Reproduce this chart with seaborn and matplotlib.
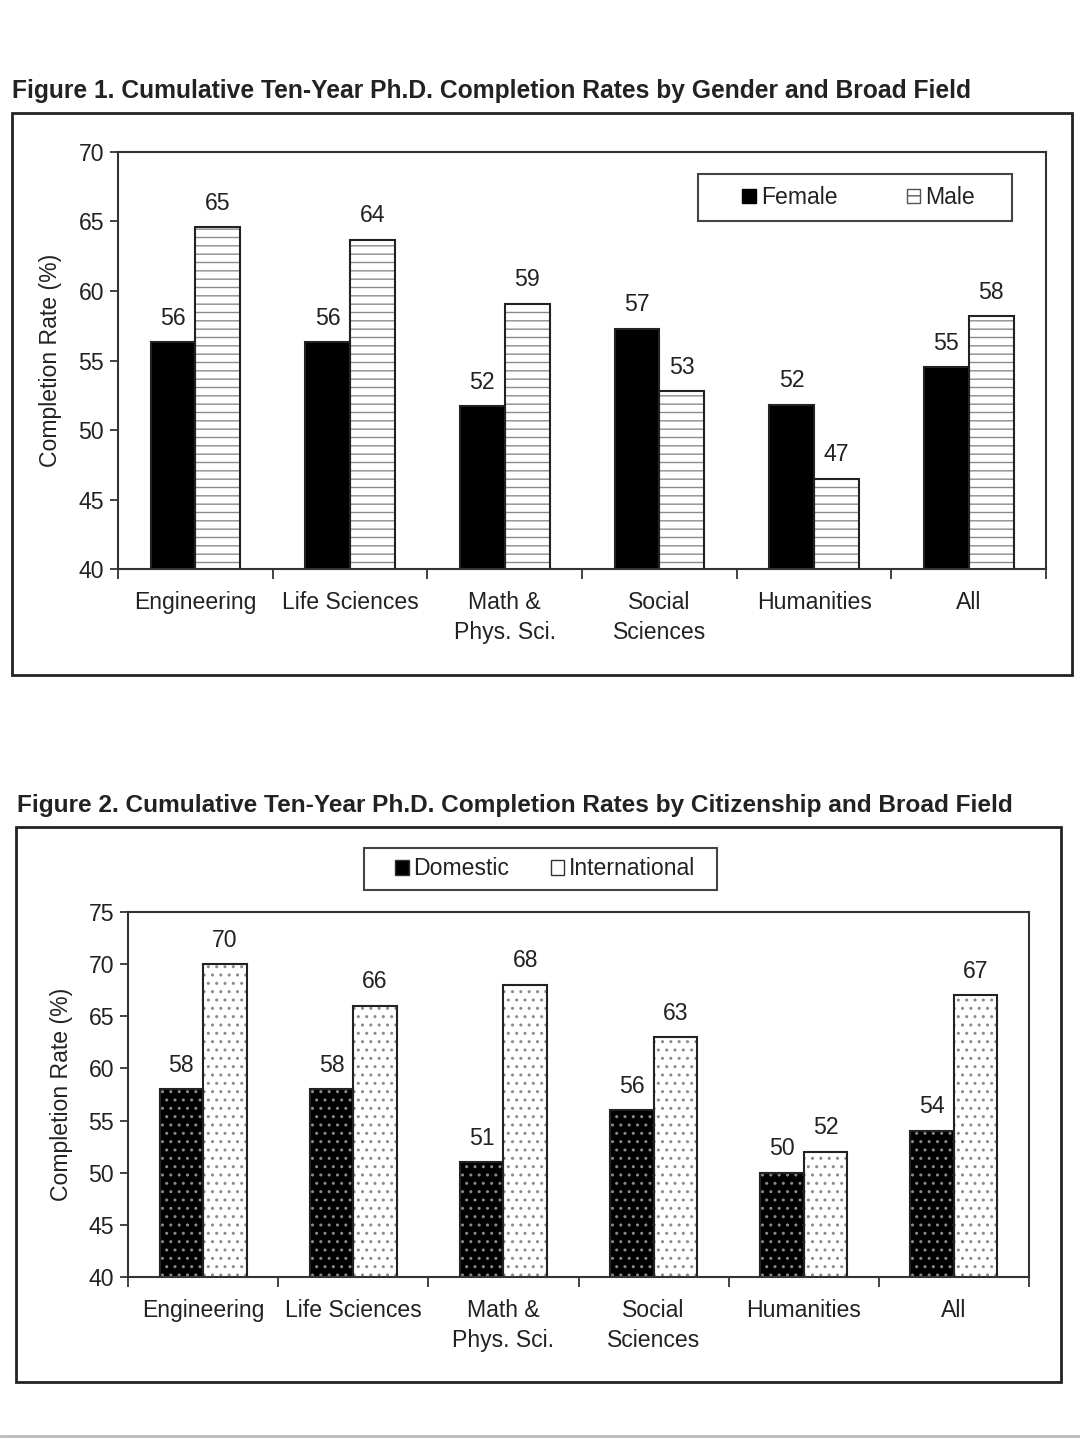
import numpy as np
import pandas as pd
import seaborn as sns
import matplotlib.pyplot as plt
from matplotlib.patches import Patch, Rectangle
from matplotlib.lines import Line2D

# Shared categories
fields = ['Engineering', 'Life Sciences', 'Math &\nPhys. Sci.', 'Social\nSciences', 'Humanities', 'All']

# Figure 1: completion by gender
female = [56.3, 56.3, 51.7, 57.3, 51.8, 54.5]
male = [64.6, 63.7, 59.1, 52.8, 46.5, 58.2]
female_labels = ['56', '56', '52', '57', '52', '55']
male_labels = ['65', '64', '59', '53', '47', '58']

# Figure 2: completion by citizenship
domestic = [58, 58, 51, 56, 50, 54]
international = [70, 66, 68, 63, 52, 67]
domestic_labels = [str(v) for v in domestic]
international_labels = [str(v) for v in international]

title1 = 'Figure 1. Cumulative Ten-Year Ph.D. Completion Rates by Gender and Broad Field'
title2 = 'Figure 2. Cumulative Ten-Year Ph.D. Completion Rates by Citizenship and Broad Field'

sns.set_style('ticks')
plt.rcParams['font.family'] = ['Liberation Sans', 'DejaVu Sans']
plt.rcParams['hatch.linewidth'] = 1.0
ink = '#222222'
fs = 16.6

fig = plt.figure(figsize=(10.8, 14.38), dpi=100)


def long_table(a, b, names):
    return pd.DataFrame({
        'field': fields * 2,
        'group': [names[0]] * len(fields) + [names[1]] * len(fields),
        'rate': a + b,
    })


def draw_panel(ax, df, names, styles, labels, ylim, labelpad):
    sns.barplot(data=df, x='field', y='rate', hue='group', order=fields, hue_order=names,
                palette=['black', 'white'], width=0.58, errorbar=None, legend=False, ax=ax)
    # hatch fill, then a plain outline on top (hatch colour follows edge colour)
    for cont, (face, hcol, hatch) in zip(ax.containers, styles):
        for bar in cont:
            bar.set_facecolor(face)
            bar.set_edgecolor(hcol)
            bar.set_hatch(hatch)
            bar.set_linewidth(0)
    sns.barplot(data=df, x='field', y='rate', hue='group', order=fields, hue_order=names,
                palette=[ink, ink], fill=False, linewidth=1.5, width=0.58,
                errorbar=None, legend=False, ax=ax)
    for cont, lab in zip(ax.containers[:2], labels):
        ax.bar_label(cont, labels=lab, padding=9, fontsize=fs, color=ink)

    ax.set_ylim(*ylim)
    ax.set_yticks(np.arange(ylim[0], ylim[1] + 1, 5))
    ax.set_xlim(-0.5, len(fields) - 0.5)
    ax.set_xticks(np.arange(len(fields)), fields, linespacing=1.4)
    ax.set_xticks(np.arange(-0.5, len(fields), 1), minor=True)
    ax.set_xlabel('')
    ax.set_ylabel('Completion Rate (%)', fontsize=fs, color=ink, labelpad=labelpad)
    ax.tick_params(axis='y', direction='out', length=6, width=1.2, pad=4,
                   labelsize=fs, colors=ink)
    ax.tick_params(axis='x', which='major', length=0, pad=16, labelsize=fs, colors=ink)
    ax.tick_params(axis='x', which='minor', direction='out', length=7, width=1.2,
                   bottom=True, colors=ink)
    for s in ax.spines.values():
        s.set_linewidth(1.5)
        s.set_color('#333333')


# ---- Figure 1 ----
ax1 = fig.add_axes([0.1093, 0.6043, 0.8593, 0.2900])
names1 = ['Female', 'Male']
styles1 = [('black', 'black', ''), ('white', '#8a8a8a', '--')]
draw_panel(ax1, long_table(female, male, names1), names1, styles1,
           [female_labels, male_labels], (40, 70), 12)
h1 = [Patch(facecolor='black', edgecolor='black', label='Female'),
      Patch(facecolor='white', edgecolor='#555555', hatch='--', label='Male')]
ax1.legend(handles=h1, loc='center', bbox_to_anchor=(0.798, 0.891), frameon=False, ncol=2,
           fontsize=fs, handlelength=0.6, handleheight=0.6, handletextpad=0.2,
           columnspacing=3.0, labelcolor=ink)
ax1.add_patch(Rectangle((0.625, 0.835), 0.338, 0.112, transform=ax1.transAxes,
                        fill=False, edgecolor='#444444', linewidth=1.5, clip_on=False))

# ---- Figure 2 ----
ax2 = fig.add_axes([0.1185, 0.1120, 0.8343, 0.2538])
names2 = ['Domestic', 'International']
styles2 = [('black', '#8a8a8a', '..'), ('white', '#8a8a8a', '..')]
draw_panel(ax2, long_table(domestic, international, names2), names2, styles2,
           [domestic_labels, international_labels], (40, 75), 11)
h2 = [Patch(facecolor='black', edgecolor='#333333', label='Domestic'),
      Patch(facecolor='white', edgecolor='#333333', label='International')]
fig.legend(handles=h2, loc='center', bbox_to_anchor=(545 / 1080, 0.3957), frameon=False, ncol=2,
           fontsize=fs, handlelength=0.6, handleheight=0.6, handletextpad=0.2,
           columnspacing=1.8, labelcolor=ink)
fig.add_artist(Rectangle((0.337, 0.3811), 0.327, 0.0292, transform=fig.transFigure,
                         fill=False, edgecolor='#444444', linewidth=1.5))

# titles and outer frames
fig.text(12 / 1080, 0.9367, title1, fontsize=17.7, fontweight='bold', color=ink, ha='left', va='center')
fig.text(17 / 1080, 0.4395, title2, fontsize=17.6, fontweight='bold', color=ink, ha='left', va='center')
fig.add_artist(Rectangle((0.0111, 0.5306), 0.9815, 0.3908, transform=fig.transFigure,
                         fill=False, edgecolor=ink, linewidth=2))
fig.add_artist(Rectangle((0.0148, 0.0389), 0.9676, 0.3860, transform=fig.transFigure,
                         fill=False, edgecolor=ink, linewidth=2))
fig.add_artist(Line2D([0, 1], [0.0012, 0.0012], transform=fig.transFigure,
                      color='#bbbbbb', linewidth=2))

fig.savefig('out.png', dpi=100)
